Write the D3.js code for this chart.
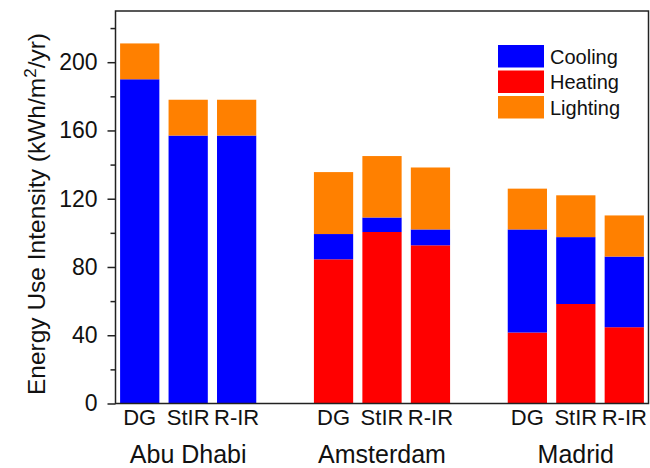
<!DOCTYPE html>
<html>
<head>
<meta charset="utf-8">
<script src="https://cdn.jsdelivr.net/npm/d3@7"></script>
<style>
  body { margin: 0; background: #fff; }
  svg { display: block; font-family: "Liberation Sans", Arial, sans-serif; }
</style>
</head>
<body>
<svg width="650" height="468"></svg>
<script>
var cities = ["Abu Dhabi", "Amsterdam", "Madrid"];
var glazings = ["DG", "StIR", "R-IR"];
// values per bar, city by city (DG, StIR, R-IR)
var heating = [0, 0, 0, 84.5, 100.5, 92.7, 41.6, 58.3, 44.7];
var cooling = [190, 157, 157, 14.8, 8.5, 9.3, 60.4, 39.2, 41.4];
var lighting = [21, 21, 21, 36.3, 36, 36.3, 23.9, 24.5, 24.1];
var majorTicks = [0, 40, 80, 120, 160, 200];
var minorTicks = [20, 60, 100, 140, 180, 220];
var legendLabels = ["Cooling", "Heating", "Lighting"];

var colors = { heating: "#ff0000", cooling: "#0000ff", lighting: "#ff8000" };

var rows = [];
cities.forEach(function(c, i) {
    glazings.forEach(function(g, j) {
        var k = i * 3 + j;
        rows.push({ city: c, glazing: g, heating: heating[k], cooling: cooling[k], lighting: lighting[k] });
    });
});

var plotL = 115.5, plotR = 648.5, plotT = 11, plotB = 403.5;

var svg = d3.select('svg');

var x0 = d3.scaleBand()
    .domain(cities)
    .range([plotL, plotR])
    .paddingInner(0.25)
    .paddingOuter(0);

var x1 = d3.scaleBand()
    .domain(glazings)
    .range([0, x0.bandwidth()])
    .paddingInner(0.19)
    .paddingOuter(0.095);

var y = d3.scaleLinear()
    .domain([0, 230])
    .range([plotB, plotT]);

var stack = d3.stack().keys(["heating", "cooling", "lighting"]);
var series = stack(rows);

svg.append('g')
    .selectAll('g')
    .data(series)
    .enter()
    .append('g')
    .style('fill', function(d){ return colors[d.key]; })
    .selectAll('rect')
    .data(function(d){ return d; })
    .enter()
    .append('rect')
    .attr('x', function(d){ return x0(d.data.city) + x1(d.data.glazing); })
    .attr('y', function(d){ return y(d[1]); })
    .attr('width', x1.bandwidth())
    .attr('height', function(d){ return y(d[0]) - y(d[1]); });

// frame
svg.append('rect')
    .attr('x', plotL)
    .attr('y', plotT)
    .attr('width', plotR - plotL)
    .attr('height', plotB - plotT)
    .style('fill', 'none')
    .style('stroke', '#222')
    .style('stroke-width', 1.5);

var yAxis = d3.axisLeft(y)
    .tickValues(majorTicks)
    .tickSize(8)
    .tickSizeOuter(0)
    .tickPadding(10);

var gy = svg.append('g')
    .attr('transform', 'translate(' + plotL + ',0)')
    .call(yAxis);
gy.select('.domain').remove();
gy.selectAll('line').style('stroke', '#222').style('stroke-width', 1.5);
gy.selectAll('text').style('font-size', '23px').style('fill', '#111').attr('font-family', null);

var gyMinor = svg.append('g')
    .attr('transform', 'translate(' + plotL + ',0)')
    .call(d3.axisLeft(y).tickValues(minorTicks).tickSize(5).tickSizeOuter(0).tickFormat(''));
gyMinor.select('.domain').remove();
gyMinor.selectAll('line').style('stroke', '#222').style('stroke-width', 1.5);

// glazing labels under each city
cities.forEach(function(c){
    var gx = svg.append('g')
        .attr('transform', 'translate(' + x0(c) + ',' + plotB + ')')
        .call(d3.axisBottom(x1).tickSize(0).tickPadding(6));
    gx.select('.domain').remove();
    gx.selectAll('text').style('font-size', '22px').style('fill', '#111').attr('font-family', null);
});

svg.selectAll('text.city')
    .data(cities)
    .enter()
    .append('text')
    .attr('class', 'city')
    .attr('x', function(d){ return x0(d) + x0.bandwidth() / 2; })
    .attr('y', 463)
    .attr('text-anchor', 'middle')
    .style('font-size', '25px')
    .style('fill', '#111')
    .text(function(d){ return d; });

// y label
var yl = svg.append('text')
    .attr('transform', 'translate(45,214)rotate(-90)')
    .attr('text-anchor', 'middle')
    .style('font-size', '24.5px')
    .style('fill', '#111');
yl.append('tspan').text('Energy Use Intensity (kWh/m');
yl.append('tspan').attr('dy', -9).style('font-size', '17px').text('2');
yl.append('tspan').attr('dy', 9).text('/yr)');

// legend
var legendColors = [colors.cooling, colors.heating, colors.lighting];
var lg = svg.append('g').attr('transform', 'translate(498,45)');
lg.selectAll('rect')
    .data(legendLabels)
    .enter()
    .append('rect')
    .attr('x', 0)
    .attr('y', function(d, i){ return i * 25.5; })
    .attr('width', 46)
    .attr('height', 22.5)
    .style('fill', function(d, i){ return legendColors[i]; });
lg.selectAll('text')
    .data(legendLabels)
    .enter()
    .append('text')
    .attr('x', 52)
    .attr('y', function(d, i){ return i * 25.5 + 18.5; })
    .style('font-size', '20px')
    .style('fill', '#111')
    .text(function(d){ return d; });
</script>
</body>
</html>
